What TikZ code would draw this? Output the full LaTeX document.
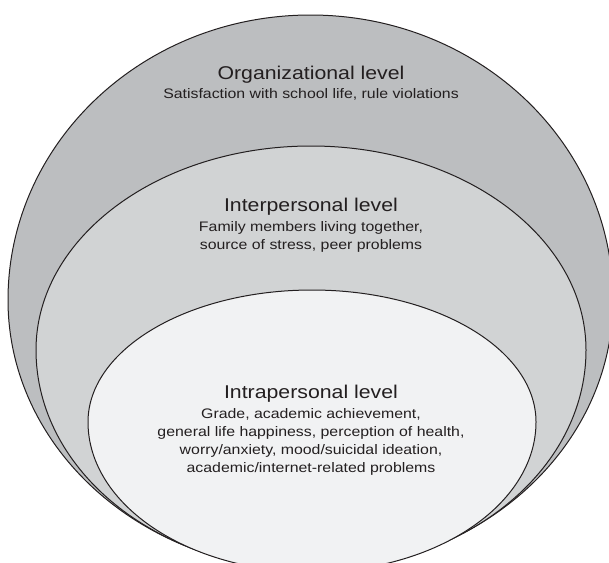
\documentclass[tikz,border=0pt]{standalone}
\usepackage{fontspec}
\setmainfont[FakeStretch=1.15]{Liberation Sans}
\definecolor{mydark}{RGB}{35,31,32}
\definecolor{myouter}{RGB}{188,190,192}
\definecolor{mymiddle}{RGB}{209,211,212}
\definecolor{myinner}{RGB}{241,242,243}
\usetikzlibrary{positioning}

\begin{document}
\begin{tikzpicture}[x=1pt, y=1pt,
    egg/.style={draw=mydark, line width=1pt},
    leveltitle/.style={font=\fontsize{18.5}{22}\selectfont, text=mydark, inner sep=0pt, anchor=base},
    leveltext/.style={font=\fontsize{13.8}{17.9}\selectfont, text=mydark, inner sep=0pt, align=center}]
    \useasboundingbox (0,0) rectangle (609,-562);
    \clip (0,0) rectangle (609,-562);
    \filldraw[egg, fill=myouter] (8,-300) arc[start angle=180, end angle=0, x radius=302.5, y radius=285]
        arc[start angle=0, end angle=-180, x radius=302.5, y radius=270] -- cycle;
    \filldraw[egg, fill=mymiddle] (36,-350) arc[start angle=180, end angle=0, x radius=275, y radius=204]
        arc[start angle=0, end angle=-180, x radius=275, y radius=220] -- cycle;
    \filldraw[egg, fill=myinner] (88,-422) arc[start angle=180, end angle=0, x radius=224, y radius=132]
        arc[start angle=0, end angle=-180, x radius=224, y radius=150] -- cycle;
    \node[leveltitle] (org) at (311,-79) {Organizational level};
    \node[leveltext, below=5.5pt of org] (orgtext) {Satisfaction with school life, rule violations};
    \node[leveltitle] (inter) at (311,-211.6) {Interpersonal level};
    \node[leveltext, below=5.5pt of inter] (intertext) {Family members living together,\\source of stress, peer problems};
    \node[leveltitle] (intra) at (311,-398.6) {Intrapersonal level};
    \node[leveltext, below=5.5pt of intra] (intratext) {Grade, academic achievement,\\general life happiness, perception of health,\\worry/anxiety, mood/suicidal ideation,\\academic/internet-related problems};
\end{tikzpicture}
\end{document}
